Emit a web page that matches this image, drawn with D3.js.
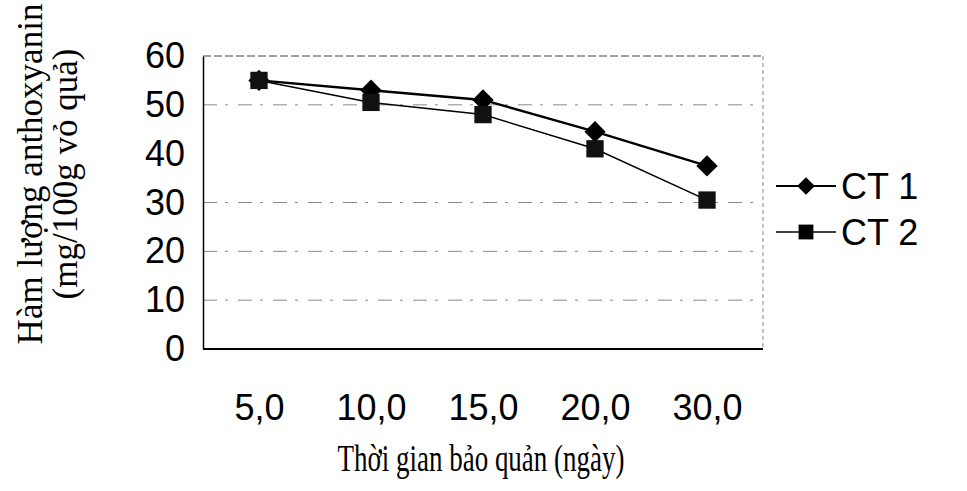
<!DOCTYPE html>
<html><head><meta charset="utf-8">
<script src="https://cdn.jsdelivr.net/npm/d3@7"></script>
<style>body{margin:0;background:#fff}</style>
</head><body>
<svg id="c" width="967" height="491"></svg>
<script>
const categories = ["5,0","10,0","15,0","20,0","30,0"];
const ct1 = [55, 53, 51, 44.5, 37.5];
const ct2 = [55, 50.5, 48, 41, 30.5];
const yTicks = [0,10,20,30,40,50,60];
const gridTicks = [10,20,30,50];

const svg = d3.select("#c");
const L=203, R=763, T=56, B=349;
const x = d3.scalePoint().domain(categories).range([L,R]).padding(0.5);
const y = d3.scaleLinear().domain([0,60]).range([B,T]);
const sans = "Liberation Sans, Arial, sans-serif";
const serif = "Liberation Serif, Times New Roman, serif";

// gridlines
svg.append("g").selectAll("line").data(gridTicks).join("line")
  .attr("x1",L).attr("x2",R).attr("y1",d=>y(d)).attr("y2",d=>y(d))
  .attr("stroke","#888").attr("stroke-width",1).attr("stroke-dasharray","14,8,3,10");
// top & right border
svg.append("line").attr("x1",L).attr("x2",R).attr("y1",T).attr("y2",T)
  .attr("stroke","#444").attr("stroke-dasharray","8,3");
svg.append("line").attr("x1",R).attr("x2",R).attr("y1",T).attr("y2",B)
  .attr("stroke","#888").attr("stroke-dasharray","4,3");

// axes
const ya = svg.append("g").attr("transform",`translate(${L},0)`)
  .call(d3.axisLeft(y).tickValues(yTicks).tickSize(0).tickPadding(18));
ya.select(".domain").attr("stroke","#000").attr("stroke-width",1.5);
ya.selectAll("text").attr("font-family",sans).attr("font-size",36).attr("fill","#000");
const xa = svg.append("g").attr("transform",`translate(0,${B})`)
  .call(d3.axisBottom(x).tickSize(0).tickPadding(45));
xa.select(".domain").attr("stroke","#000").attr("stroke-width",2).attr("d",`M${L},0H${R}`);
xa.selectAll("text").attr("font-family",sans).attr("font-size",36).attr("fill","#000");

// lines
const line = d3.line().x((d,i)=>x(categories[i])).y(d=>y(d));
svg.append("path").datum(ct2).attr("d",line).attr("fill","none").attr("stroke","#000").attr("stroke-width",1.5);
svg.append("path").datum(ct1).attr("d",line).attr("fill","none").attr("stroke","#000").attr("stroke-width",2.4);

const diamond = d3.symbol().type(d3.symbolDiamond2).size(290);
const square = d3.symbol().type(d3.symbolSquare).size(300);
svg.append("g").selectAll("path").data(ct1).join("path")
  .attr("transform",(d,i)=>`translate(${x(categories[i])},${y(d)})`).attr("d",diamond).attr("fill","#000");
svg.append("g").selectAll("path").data(ct2).join("path")
  .attr("transform",(d,i)=>`translate(${x(categories[i])},${y(d)})`).attr("d",square).attr("fill","#111");

// legend
const leg = [{n:"CT 1",s:d3.symbol().type(d3.symbolDiamond2).size(200),sw:2.2,yy:186},
             {n:"CT 2",s:d3.symbol().type(d3.symbolSquare).size(220),sw:1.5,yy:232}];
const lg = svg.append("g");
leg.forEach(l=>{
  lg.append("line").attr("x1",776).attr("x2",836).attr("y1",l.yy).attr("y2",l.yy).attr("stroke","#000").attr("stroke-width",l.sw);
  lg.append("path").attr("d",l.s).attr("transform",`translate(806,${l.yy})`).attr("fill","#000");
  lg.append("text").attr("x",841).attr("y",l.yy+13).text(l.n)
    .attr("font-family",sans).attr("font-size",36).attr("fill","#000");
});

// axis titles
svg.append("text").attr("transform","translate(481,471) scale(0.71,1)").attr("text-anchor","middle")
  .attr("font-family",serif).attr("font-size",38).attr("fill","#000")
  .text("Thời gian bảo quản (ngày)");
const yt = svg.append("text").attr("transform","rotate(-90)")
  .attr("font-family",serif).attr("font-size",35).attr("fill","#000").attr("text-anchor","middle");
yt.append("tspan").attr("x",-174).attr("y",42).text("Hàm lượng anthoxyanin");
yt.append("tspan").attr("x",-174).attr("y",77).text("(mg/100g vỏ quả)");
</script>
</body></html>
